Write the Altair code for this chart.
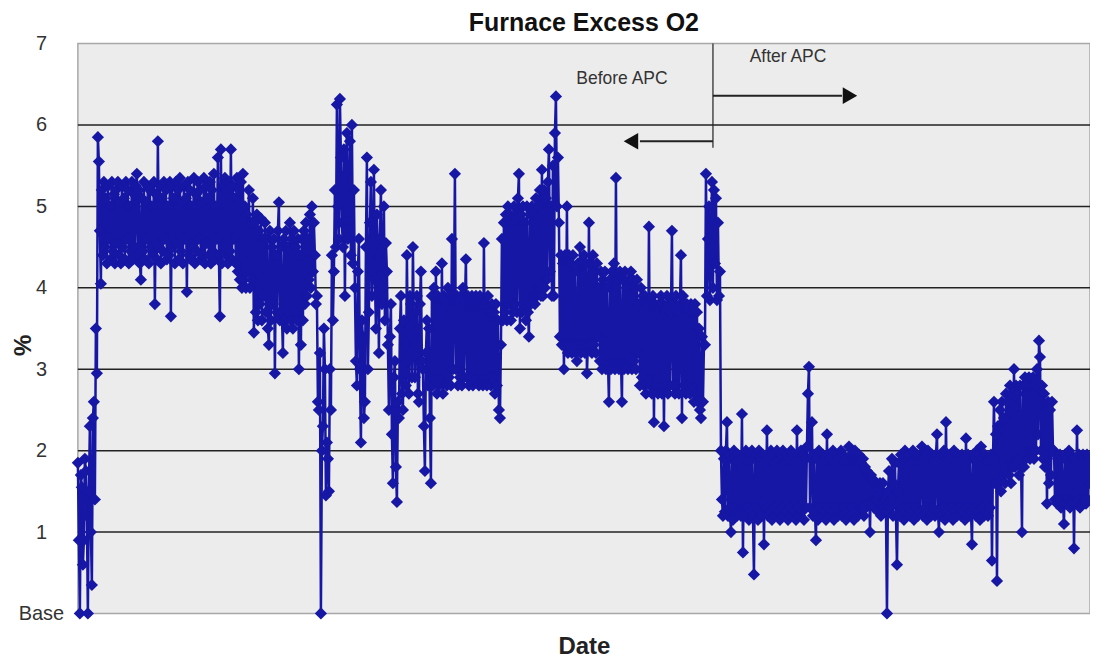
import altair as alt
import pandas as pd

# ---- data (roughly one reading per pixel column) ----
startup = [1.85, 0.9, 0.0, 1.7, 1.55, 0.6, 0.9, 1.9, 1.75, 1.2,
           0.0, 1.5, 2.3, 1.0, 0.35, 2.4, 2.6, 1.4, 3.5, 2.95]
high_band = [5.85, 5.55, 4.7, 4.05, 5.2, 4.4, 5.3, 4.5, 5.1, 4.3,
             5.25, 4.6, 5.0, 4.35, 5.3, 4.45, 5.15, 4.3, 5.2, 4.55,
             5.3, 4.4, 5.05, 4.3, 5.25, 4.5, 5.1, 4.35, 5.3, 4.6,
             5.2, 4.3, 5.0, 4.45, 5.3, 4.35, 5.15, 4.5, 5.25, 5.4,
             4.4, 5.2, 4.3, 4.1, 5.1, 4.45, 5.3, 4.35, 5.05, 4.6,
             5.25, 4.3, 5.2, 4.5, 5.0, 4.4, 5.3, 3.8, 5.15, 4.35,
             5.8, 4.5, 5.25, 4.3, 5.1, 4.45, 5.3, 4.6, 5.2, 4.35,
             5.0, 4.4, 5.3, 3.65, 5.25, 4.5, 5.1, 4.3, 5.3, 4.55,
             5.2, 4.35, 5.35, 4.45, 5.05, 4.3, 5.25, 4.6, 5.1, 3.95,
             5.3, 4.4, 5.2, 4.35, 5.0, 4.5, 5.35, 4.3, 5.15, 4.45,
             5.3, 4.6, 5.2, 4.35, 5.05, 4.4, 5.35, 4.3, 5.25, 4.55,
             5.1, 4.4, 5.3, 4.3, 5.2, 4.45, 5.4, 4.35, 5.0, 4.6,
             5.6, 4.4, 3.65, 5.7, 4.3, 5.25, 4.5, 5.35, 4.4, 5.2,
             4.3, 5.3, 4.45, 5.7, 4.35, 5.25, 4.6, 5.1, 4.3, 5.35,
             4.2, 5.2, 4.1, 5.3, 4.0, 5.4, 4.1, 5.0, 4.0, 4.9,
             4.2, 5.2, 4.0, 4.8, 4.1, 5.1]
drift_band = [3.45, 4.8, 3.7, 4.9, 3.6, 4.7, 3.8, 4.85, 3.6, 4.6,
              3.9, 4.8, 3.7, 4.6, 3.5, 3.3, 4.7, 3.6, 4.5, 3.8,
              4.6, 2.95, 4.4, 3.7, 4.7, 5.05, 3.6, 4.5, 3.7, 3.2,
              4.6, 3.6, 4.7, 3.5, 4.5, 3.7, 4.8, 3.6, 4.6, 3.5,
              4.7, 3.7, 4.5, 3.6, 4.6, 3.0, 4.4, 3.3, 4.6, 3.6,
              4.7, 3.8, 4.8, 3.9, 4.6, 4.1, 4.9, 4.0, 5.0, 4.2,
              4.8]
upset_1 = [4.4, 3.8, 3.9, 2.6, 2.5, 3.2, 0.0, 2.0, 2.3, 3.5,
           3.0, 1.45, 2.1, 1.9, 1.5, 3.0, 2.5, 4.4, 3.6, 4.2]
spike_1 = [5.2, 4.5, 6.25, 5.0, 4.6, 6.32, 5.6, 4.8, 4.5, 5.7,
           3.9, 5.4, 5.9, 4.6, 4.8, 5.8, 4.4, 6.0, 4.3, 5.2]
dip_1 = [4.0, 3.1, 2.8, 4.2, 4.6, 3.0, 2.1, 3.6, 3.4, 2.4, 2.6, 4.5, 5.6, 3.0]
recover_1 = [3.7, 4.8, 5.3, 3.9, 4.2, 5.45, 4.1, 3.5, 4.9, 4.4,
             3.2, 4.6, 5.2, 3.8, 4.0, 5.0, 3.6, 4.55, 4.2, 3.3]
dip_2 = [2.5, 3.4, 3.8, 2.2, 1.6, 2.9, 3.1, 1.8, 1.37, 2.6, 2.4, 3.5, 3.9, 2.7, 2.5, 3.6]
mid_band_1 = [3.3, 2.8, 4.4, 3.1, 2.7, 3.9, 3.8, 2.9, 4.5, 3.4, 2.9, 3.7,
              3.9, 2.7, 2.6, 3.8, 4.2, 3.1, 3.0, 2.3, 1.75, 3.2, 3.6, 2.8]
mid_band_2 = [3.5, 2.4, 1.6, 3.9, 2.8, 4.0, 2.9, 4.2, 2.7, 3.9,
              2.8, 3.8, 2.9, 4.3, 2.7, 3.9, 2.9, 3.8, 2.8, 4.0,
              2.9, 3.9, 2.8, 4.6, 3.0, 3.9, 5.4, 3.0, 3.9, 2.8,
              3.8, 2.9, 3.9, 2.8, 4.0, 2.9, 3.8, 4.35, 2.9, 3.9,
              2.8, 3.8, 2.9, 3.9, 2.8, 3.8, 2.85, 3.9, 2.9, 3.8,
              2.8, 3.9, 2.9, 3.8, 2.8, 4.55, 2.9, 3.8, 2.8, 3.9,
              2.9, 3.7, 2.8, 3.8, 2.9, 3.7, 2.7, 3.8, 2.8, 3.6,
              2.5, 2.4]
rise_band = [3.3, 4.6, 3.6, 4.8, 3.7, 4.9, 3.6, 5.0, 3.8, 4.9,
             3.6, 4.8, 3.7, 5.0, 3.8, 4.9, 3.7, 5.1, 5.4, 3.5,
             4.9, 3.7, 5.0, 3.8, 4.8, 3.6, 5.0, 3.7, 3.4, 4.9,
             3.8, 5.0, 3.9, 4.9, 3.8, 5.1, 3.9, 5.0, 4.0, 5.2,
             3.9, 5.45, 3.9, 5.2, 4.0, 5.1, 4.1, 5.3, 5.7, 4.2,
             5.0, 3.9, 5.5, 3.9, 5.9, 6.35, 5.0, 5.6]
late_band_1 = [4.8, 3.4, 4.4, 3.3, 4.3, 3.0, 4.4, 3.3, 5.0, 3.2,
               4.4, 3.3, 4.3, 3.2, 4.4, 3.3, 4.2, 3.2, 3.1, 4.3,
               3.3, 4.5, 3.2, 4.3, 3.3, 4.4, 3.2, 4.3, 2.95, 3.3,
               4.8, 3.3, 4.3, 3.2, 4.4, 3.3, 4.2, 3.2, 4.3, 3.4]
late_band_2 = [4.0, 3.1, 4.2, 3.0, 4.1, 3.1, 4.2, 3.0, 4.0, 3.1,
               2.6, 4.1, 3.0, 4.2, 3.1, 4.3, 3.0, 5.35, 3.1, 4.1,
               3.0, 4.2, 3.1, 2.6, 4.1, 3.0, 4.2, 3.1, 4.0, 3.0,
               4.1, 3.1, 4.2, 3.0, 4.1, 3.1, 4.0, 3.0, 4.1, 3.2]
late_band_3 = [3.8, 2.8, 4.0, 2.9, 3.9, 2.8, 3.9, 2.7, 3.8, 2.9,
               4.75, 2.8, 3.8, 2.7, 3.9, 2.35, 3.8, 2.8, 3.7, 2.7,
               3.8, 2.8, 3.9, 2.7, 3.8, 2.3, 3.7, 2.8, 3.9, 2.7,
               3.8, 2.8, 3.7, 4.7, 2.8, 3.8, 2.7, 3.9, 2.8, 3.7,
               2.7, 3.8, 4.4, 2.4, 3.9, 2.8, 3.8, 2.7, 3.8, 2.8,
               3.7, 2.7, 3.8, 2.8, 3.7, 2.6, 3.8, 2.7, 3.7, 2.6,
               3.5, 2.5, 2.4, 3.4, 2.6, 3.3]
pre_switch = [3.3, 5.4, 3.9, 4.6, 5.0, 3.85, 4.4, 5.3, 4.0, 5.2, 4.3, 5.1, 3.85, 4.8, 3.9, 4.2]
apc_band_1 = [2.0, 1.4, 1.2, 1.9, 1.25, 2.0, 2.35, 1.2, 1.95, 1.3,
              1.0, 1.9, 1.15, 2.0, 1.3, 1.85, 1.2, 1.95, 1.25, 1.9,
              1.2, 2.45, 0.75, 1.9, 1.2, 2.0, 1.3, 1.85, 1.15, 1.95,
              1.25, 2.0, 1.2, 0.48, 1.9, 1.3, 1.95, 1.15, 2.0, 1.25,
              1.9, 1.2, 1.95, 0.85, 1.85, 1.3, 2.25, 1.2, 1.9, 1.25,
              2.0, 1.15, 1.95, 1.3, 1.85, 1.2, 2.0, 1.25, 1.9, 1.15,
              1.95, 1.3, 2.0, 1.2, 1.85, 1.25, 1.95, 1.15, 1.9, 1.3,
              2.0, 1.2, 1.95, 1.25, 1.85, 1.15, 2.25, 1.3, 1.9, 1.2,
              2.0, 1.25, 1.95, 1.15, 1.9, 1.3, 2.05, 2.7, 3.03, 1.3,
              1.9, 2.35, 1.2, 1.95, 1.25, 0.9, 1.9, 1.15, 2.0, 1.3,
              1.85, 1.2, 1.95, 1.25, 1.9, 1.15, 2.2, 1.3, 1.95, 1.2,
              1.9, 1.25, 2.0, 1.15, 1.85, 1.3, 1.95, 1.2, 1.9, 1.25,
              2.0, 1.2, 1.95, 1.3, 1.85, 1.15, 1.9, 1.25, 2.05, 1.2,
              1.95, 1.3, 1.9, 1.15, 2.0, 1.25, 1.85, 1.2, 1.95, 1.3,
              1.85, 1.3, 1.9, 1.2, 1.8, 1.3, 1.75, 1.35, 1.7, 1.0,
              1.7, 1.35, 1.65, 1.3, 1.6, 1.4, 1.55, 1.25]
apc_upset = [1.45, 1.6, 1.2, 1.5, 1.6, 1.3, 1.4, 1.25, 0.0, 1.5,
             1.75, 1.3, 1.4, 1.9, 1.2, 1.6, 1.85, 1.2, 0.6, 1.5]
apc_band_2 = [1.85, 1.2, 1.95, 1.3, 1.9, 1.15, 2.0, 1.25, 1.9, 1.3,
              1.95, 1.2, 1.85, 1.25, 2.0, 1.15, 1.9, 1.3, 1.95, 1.2,
              1.9, 1.25, 1.95, 2.05, 1.2, 1.9, 1.3, 1.95, 1.15, 2.0,
              1.25, 1.9, 1.2, 1.95, 1.3, 1.85, 1.2, 1.95, 2.2, 1.25,
              1.0, 1.9, 1.2, 1.95, 1.3, 2.0, 1.15, 2.35, 1.25, 1.9,
              1.2, 1.95, 1.3, 1.9, 1.15, 2.0, 1.25, 1.85, 1.2, 1.95,
              1.3, 1.9, 1.2, 1.95, 1.25, 1.9, 1.15, 2.15, 1.3, 1.95,
              1.2, 1.9, 1.25, 0.85, 1.95, 1.3, 1.9, 1.2, 2.0, 1.25,
              1.95, 1.15, 2.05, 1.3, 1.9, 1.2, 1.95, 1.25, 1.85, 1.2,
              1.9, 1.3, 1.95, 0.65, 1.9]
apc_band_3 = [2.6, 1.6, 2.2, 0.4, 2.3, 1.6, 2.5, 1.5, 2.6, 1.7,
              2.4, 1.6, 2.7, 1.8, 2.6, 1.7, 2.8, 1.6, 2.7, 1.8,
              3.0, 1.8, 2.8, 1.9, 2.7, 1.7, 2.8, 1.9, 1.0, 2.8,
              1.8, 2.9, 1.9, 2.8, 2.0, 2.9, 1.9, 2.8, 2.0, 2.9,
              1.9, 2.8, 2.0, 3.0, 2.2, 3.35, 3.15, 2.0, 2.8, 1.9,
              2.7, 1.8, 2.5, 1.35, 2.6, 1.6, 2.5, 1.7, 2.6, 2.0]
apc_band_4 = [2.0, 1.4, 1.95, 1.35, 1.9, 1.4, 1.95, 1.3, 1.9, 1.35,
              1.1, 1.95, 1.35, 1.9, 1.4, 2.0, 1.3, 1.95, 1.35, 1.9,
              0.8, 1.9, 1.35, 2.25, 1.4, 1.95, 1.3, 1.9, 1.35, 1.95,
              1.4, 1.9, 1.35, 1.95, 1.4, 1.85, 1.6]

before_apc = (startup + high_band + drift_band + upset_1 + spike_1 + dip_1 + recover_1 +
              dip_2 + mid_band_1 + mid_band_2 + rise_band + late_band_1 + late_band_2 +
              late_band_3 + pre_switch)
after_apc = apc_band_1 + apc_upset + apc_band_2 + apc_band_3 + apc_band_4
values = before_apc + after_apc
n = len(values)

grid_levels = [1, 2, 3, 4, 5, 6]
y_ticks = [0, 1, 2, 3, 4, 5, 6, 7]

# annotation anchors (in reading-index units)
apc_idx = len(before_apc) - 8
after_arrow_end = apc_idx + 129
before_arrow_end = apc_idx - 73
after_head = apc_idx + 137
before_head = apc_idx - 82
after_label = apc_idx + 75
before_label = apc_idx - 91

df = pd.DataFrame({"t": list(range(n)), "o2": values})

x_scale = alt.Scale(domain=[0, n - 1], nice=False, zero=False)
y_scale = alt.Scale(domain=[0, 7], nice=False)

BLUE = "#1717a6"
FONT = "Liberation Sans"

grid = alt.Chart(pd.DataFrame({"g": grid_levels})).mark_rule(
    color="#222222", strokeWidth=1.5
).encode(y=alt.Y("g:Q", scale=y_scale))

series = alt.Chart(df).mark_line(
    color=BLUE, strokeWidth=2.5,
    point=alt.OverlayMarkDef(shape="diamond", filled=True, size=150, color=BLUE, opacity=1)
).encode(
    x=alt.X("t:Q", scale=x_scale,
            axis=alt.Axis(title="Date", labels=False, ticks=False, grid=False, domain=False,
                          titleFontSize=24, titleFont=FONT, titleFontWeight="bold",
                          titleColor="#222222", titlePadding=21)),
    y=alt.Y("o2:Q", scale=y_scale,
            axis=alt.Axis(title="%", values=y_ticks, format="d", grid=False, ticks=False,
                          tickSize=0, domain=False,
                          labelExpr="datum.value == 0 ? 'Base' : datum.label",
                          labelAlign="center", labelPadding=37, labelFontSize=20,
                          labelFont=FONT, labelColor="#333333",
                          titleFontSize=24, titleFont=FONT, titleFontWeight="bold",
                          titleColor="#222222", titleX=-54, titleY=302,
                          titleAlign="center", titleBaseline="middle")),
)

vline = alt.Chart(pd.DataFrame({"x": [apc_idx], "y": [7.0], "y2": [5.72]})).mark_rule(
    color="#222222", strokeWidth=1.2
).encode(x=alt.X("x:Q", scale=x_scale), y=alt.Y("y:Q", scale=y_scale), y2="y2:Q")

arrows = alt.Chart(pd.DataFrame({
    "x": [apc_idx, apc_idx],
    "x2": [after_arrow_end, before_arrow_end],
    "y": [6.36, 5.80],
})).mark_rule(color="#222222", strokeWidth=2).encode(
    x=alt.X("x:Q", scale=x_scale), x2="x2:Q", y=alt.Y("y:Q", scale=y_scale)
)

heads = alt.Chart(pd.DataFrame({
    "x": [after_head, before_head],
    "y": [6.36, 5.80],
    "shape": ["triangle-right", "triangle-left"],
})).mark_point(filled=True, color="#111111", size=280, opacity=1).encode(
    x=alt.X("x:Q", scale=x_scale), y=alt.Y("y:Q", scale=y_scale),
    shape=alt.Shape("shape:N", scale=None)
)

labels = alt.Chart(pd.DataFrame({
    "x": [after_label, before_label],
    "y": [6.83, 6.57],
    "text": ["After APC", "Before APC"],
})).mark_text(fontSize=17.5, font=FONT, color="#333333").encode(
    x=alt.X("x:Q", scale=x_scale), y=alt.Y("y:Q", scale=y_scale), text="text:N"
)

chart = alt.layer(grid, series, vline, arrows, heads, labels).properties(
    width=1014, height=571,
    title=alt.TitleParams("Furnace Excess O2", fontSize=25, font=FONT,
                          fontWeight="bold", color="#111111", offset=-2, anchor="middle"),
    autosize=alt.AutoSizeParams(type="none"),
    padding={"left": 70, "top": 35, "right": 0, "bottom": 50},
).configure_view(
    fill="#ececec", stroke="#a8a8a8", strokeWidth=1.5
)

chart.save("out.html", embed_options={"renderer": "svg", "actions": False})
